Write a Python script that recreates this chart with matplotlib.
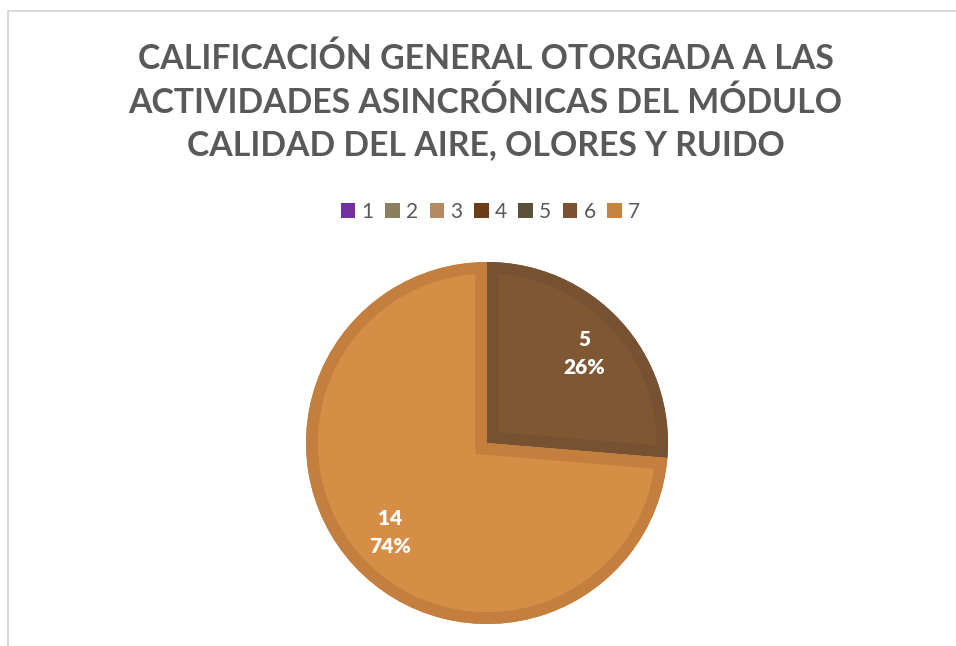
import matplotlib
matplotlib.use("Agg")
from matplotlib import pyplot as plt
from matplotlib.patches import Patch, Rectangle, Wedge

# chart data
categories = ['1', '2', '3', '4', '5', '6', '7']
counts = [0, 0, 0, 0, 0, 5, 14]
legend_colors = ['#7030A0', '#8B7F5F', '#B58A60', '#6B3E17', '#5A4F3B', '#7A5232', '#C8823F']
fill_colors = {'6': '#7F5833', '7': '#D68D46'}
edge_colors = {'6': '#765233', '7': '#C47F3F'}
title = 'CALIFICACIÓN GENERAL OTORGADA A LAS\nACTIVIDADES ASINCRÓNICAS DEL MÓDULO\nCALIDAD DEL AIRE, OLORES Y RUIDO'

plt.rcParams['font.family'] = ['Lato', 'DejaVu Sans']

fig = plt.figure(figsize=(9.56, 6.46), dpi=100)

# chart area border (left and top edges visible only)
fig.patches.append(Rectangle((8 / 956, -0.1), 1.2, 1.1 - 11 / 646, transform=fig.transFigure,
                             fill=False, edgecolor='#D9D9D9', linewidth=1.5))

fig.text(0.508, 1 - 102 / 646, title, ha='center', va='center', fontsize=24.3,
         fontweight='bold', color='#595959', linespacing=1.42)

# legend
handles = [Patch(facecolor=c, edgecolor='none') for c in legend_colors]
fig.legend(handles, categories, loc='center', bbox_to_anchor=(0.513, 1 - 212 / 646), ncol=7,
           frameon=False, fontsize=15, handlelength=0.7, handleheight=0.7, handletextpad=0.3,
           columnspacing=0.55, labelcolor='#595959')

# pie (only non-zero slices drawn)
vals = [v for v in counts if v > 0]
cats = [c for c, v in zip(categories, counts) if v > 0]
total = sum(vals)
labels = [f'{v}\n{round(100 * v / total)}%' for v in vals]

ax = fig.add_axes([(487 - 181) / 956, (646 - 443 - 181) / 646, 362 / 956, 362 / 646])
wedges, texts = ax.pie(vals, labels=labels, startangle=90, counterclock=False,
                       colors=[fill_colors[c] for c in cats], labeldistance=0.73,
                       wedgeprops=dict(linewidth=0),
                       textprops=dict(color='white', fontsize=15, fontweight='heavy',
                                      ha='center', va='center', linespacing=1.55))
# inner border of each slice: a stroked copy clipped to the slice shape
for w, c in zip(wedges, cats):
    border = Wedge(w.center, w.r, w.theta1, w.theta2, facecolor='none',
                   edgecolor=edge_colors[c], linewidth=17, zorder=w.get_zorder() + 0.1)
    ax.add_patch(border)
    clip = Wedge(w.center, w.r, w.theta1, w.theta2, transform=ax.transData)
    border.set_clip_path(clip)
for t in texts:
    t.set_zorder(5)
ax.set_xlim(-1, 1)
ax.set_ylim(-1, 1)
ax.set_aspect('equal')
ax.axis('off')

fig.savefig('out.png', dpi=100)
